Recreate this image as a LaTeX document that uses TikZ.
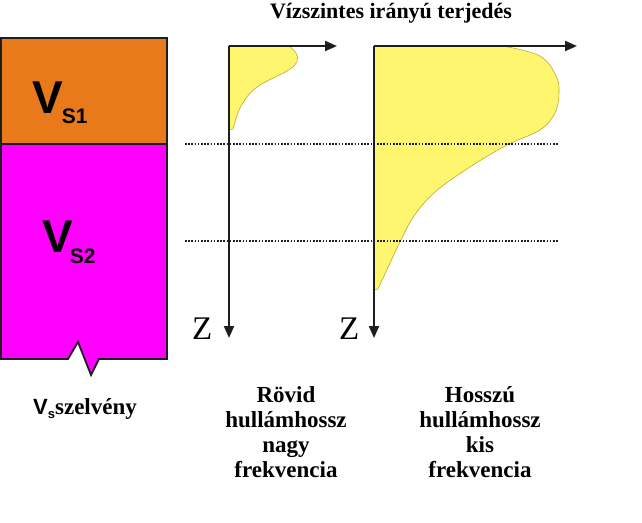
\documentclass[tikz,border=0pt]{standalone}
\usepackage{fontspec}
\setmainfont{Liberation Serif}
\setsansfont{Liberation Sans}
\usetikzlibrary{arrows.meta}
\definecolor{vsorange}{RGB}{232,122,28}
\definecolor{vsmagenta}{RGB}{255,0,255}
\definecolor{wyellow}{RGB}{255,246,112}
\definecolor{wyedge}{RGB}{190,170,40}
\definecolor{ink}{RGB}{30,30,30}
\begin{document}
\begin{tikzpicture}[x=1pt,y=-1pt,
  layerline/.style={draw=ink,line width=1.8pt,line join=miter},
  axisline/.style={draw=ink,line width=2pt,-{Triangle[length=12pt,width=10pt]}},
  wave/.style={fill=wyellow,draw=wyedge,line width=0.6pt},
  dotline/.style={draw=ink,line width=1.6pt,dash pattern=on 1.6pt off 1.6pt},
  lbl/.style={font=\fontsize{23}{25}\selectfont\bfseries,align=center,inner sep=0pt},
  zlbl/.style={font=\fontsize{33}{33}\selectfont,inner sep=0pt,anchor=base west}]
\useasboundingbox (0,0) rectangle (642,522);
% title
\node[font=\fontsize{22}{24}\selectfont\bfseries,anchor=base,inner sep=0pt] (title) at (391,18) {Vízszintes irányú terjedés};
% layer column
\fill[vsorange] (1,38) rectangle (167,144);
\fill[vsmagenta] (1,144) -- (167,144) -- (167,359) -- (99,359) -- (91,375) -- (78,342) -- (68,359) -- (1,359) -- cycle;
\draw[layerline] (1,38) -- (167,38) -- (167,359) -- (99,359) -- (91,375) -- (78,342) -- (68,359) -- (1,359) -- cycle;
\draw[layerline] (1,144) -- (167,144);
\node[anchor=base west,inner sep=0pt] (vs1) at (32,113) {\sffamily\bfseries\fontsize{46}{46}\selectfont V\kern-1pt\fontsize{21}{21}\selectfont\raisebox{-10pt}{S1}};
\node[anchor=base west,inner sep=0pt] (vs2) at (42,252) {\sffamily\bfseries\fontsize{46}{46}\selectfont V\kern-3pt\fontsize{21}{21}\selectfont\raisebox{-11pt}{S2}};
% small wave
\coordinate (o1) at (229,46);
\coordinate (x1) at (337,46);
\coordinate (z1) at (229,338);
\path[wave] (229,46) -- plot[smooth,tension=0.6] coordinates {(289,46) (296,53) (297,62) (287,71) (257,87) (241,106) (233,129)} -- (229,130) -- cycle;
% big wave
\coordinate (o2) at (374,46);
\coordinate (x2) at (577,46);
\coordinate (z2) at (374,338);
\path[wave] (374,46) -- plot[smooth,tension=0.6] coordinates {(503,46) (540,56) (556,76) (559,93) (555,113) (540,130) (507,145) (470,167) (435,192) (414,216) (401,240) (390,263) (378,289)} -- (374,290) -- cycle;
% dotted layer boundaries
\coordinate (d1a) at (185,144);
\coordinate (d1b) at (559,144);
\coordinate (d2a) at (185,241);
\coordinate (d2b) at (559,241);
\draw[dotline] (d1a) -- (d1b);
\draw[dotline] (d2a) -- (d2b);
% axes
\draw[axisline] (o1) -- (x1);
\draw[axisline] (o1) -- (z1);
\draw[axisline] (o2) -- (x2);
\draw[axisline] (o2) -- (z2);
\node[zlbl] (zl1) at (192,339) {Z};
\node[zlbl] (zl2) at (339,339) {Z};
% captions
\node[anchor=base west,inner sep=0pt] (cap0) at (33,414) {\sffamily\bfseries\fontsize{22}{22}\selectfont V\fontsize{13}{13}\selectfont\raisebox{-4pt}{s}\rmfamily\fontsize{23}{23}\selectfont szelvény};
\node[lbl,anchor=north] (cap1) at (286,386) {Rövid\\hullámhossz\\nagy\\frekvencia};
\node[lbl,anchor=north] (cap2) at (480,386) {Hosszú\\hullámhossz\\kis\\frekvencia};
\end{tikzpicture}
\end{document}
